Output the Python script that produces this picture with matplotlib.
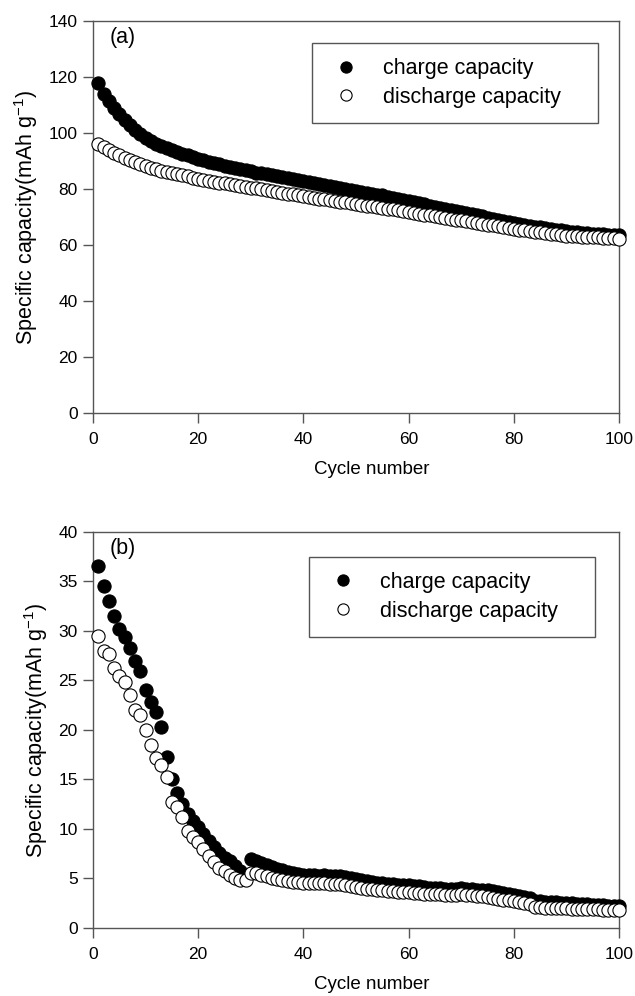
import numpy as np
import matplotlib
matplotlib.use('Agg')
from matplotlib import pyplot as plt

## DATA
cycles = np.arange(1, 101)

charge_a = [118.0, 114.0, 111.5, 109.0, 106.8, 104.8, 102.8, 101.0, 99.5, 98.2,
            97.0, 96.0, 95.2, 94.5, 93.8, 93.2, 92.6, 92.0, 91.4, 90.8,
            90.3, 89.8, 89.3, 88.8, 88.4, 88.0, 87.5, 87.1, 86.7, 86.3,
            85.9, 85.6, 85.2, 84.9, 84.5, 84.2, 83.8, 83.5, 83.1, 82.8,
            82.4, 82.1, 81.8, 81.4, 81.0, 80.7, 80.4, 80.0, 79.7, 79.4,
            79.0, 78.7, 78.4, 78.0, 77.7, 77.3, 76.9, 76.5, 76.1, 75.7,
            75.3, 74.9, 74.5, 74.1, 73.7, 73.3, 73.0, 72.6, 72.2, 71.8,
            71.4, 71.0, 70.6, 70.2, 69.8, 69.4, 69.0, 68.6, 68.2, 67.8,
            67.5, 67.2, 66.9, 66.6, 66.3, 66.0, 65.7, 65.4, 65.2, 65.0,
            64.8, 64.6, 64.4, 64.2, 64.0, 63.9, 63.8, 63.7, 63.6, 63.5]

discharge_a = [96.0, 95.0, 94.0, 93.0, 92.0, 91.0, 90.2, 89.5, 88.8, 88.2,
               87.6, 87.1, 86.6, 86.1, 85.7, 85.3, 84.9, 84.5, 84.1, 83.7,
               83.3, 82.9, 82.6, 82.3, 82.0, 81.7, 81.4, 81.1, 80.8, 80.5,
               80.2, 79.9, 79.6, 79.3, 79.0, 78.7, 78.4, 78.1, 77.8, 77.5,
               77.2, 76.9, 76.6, 76.3, 76.0, 75.8, 75.5, 75.2, 75.0, 74.7,
               74.4, 74.1, 73.8, 73.5, 73.2, 73.0, 72.7, 72.4, 72.1, 71.8,
               71.5, 71.2, 70.9, 70.6, 70.3, 70.0, 69.7, 69.4, 69.1, 68.8,
               68.5, 68.2, 67.9, 67.6, 67.3, 67.0, 66.7, 66.4, 66.1, 65.8,
               65.5, 65.2, 65.0, 64.7, 64.5, 64.2, 64.0, 63.8, 63.6, 63.4,
               63.2, 63.1, 63.0, 62.9, 62.8, 62.7, 62.6, 62.5, 62.4, 62.3]

charge_b = [36.6, 34.5, 33.0, 31.5, 30.2, 29.4, 28.3, 27.0, 26.0, 24.0,
            22.8, 21.8, 20.3, 17.3, 15.0, 13.6, 12.5, 11.5, 10.8, 10.2,
            9.5, 8.8, 8.2, 7.6, 7.1, 6.8, 6.3, 5.8, 5.3, 7.0,
            6.8, 6.6, 6.4, 6.2, 6.0, 5.9, 5.7, 5.6, 5.5, 5.4,
            5.4, 5.4, 5.3, 5.4, 5.3, 5.3, 5.2, 5.1, 5.0, 4.9,
            4.8, 4.7, 4.6, 4.5, 4.5, 4.4, 4.4, 4.3, 4.3, 4.3,
            4.2, 4.2, 4.1, 4.0, 4.0, 4.0, 3.9, 3.9, 3.9, 4.0,
            3.9, 3.9, 3.8, 3.8, 3.8, 3.7, 3.6, 3.5, 3.4, 3.3,
            3.2, 3.1, 3.0, 2.7, 2.7, 2.6, 2.6, 2.6, 2.5, 2.5,
            2.5, 2.4, 2.4, 2.4, 2.3, 2.3, 2.3, 2.2, 2.2, 2.2]

discharge_b = [29.5, 28.0, 27.7, 26.3, 25.5, 24.8, 23.5, 22.0, 21.5, 20.0,
               18.5, 17.2, 16.5, 15.2, 12.7, 12.2, 11.2, 9.8, 9.2, 8.7,
               8.0, 7.3, 6.7, 6.1, 5.8, 5.4, 5.0, 4.8, 4.8, 5.6,
               5.6, 5.4, 5.2, 5.0, 4.9, 4.8, 4.7, 4.6, 4.6, 4.5,
               4.5, 4.5, 4.5, 4.5, 4.4, 4.4, 4.4, 4.3, 4.2, 4.1,
               4.0, 3.9, 3.9, 3.8, 3.8, 3.7, 3.7, 3.6, 3.6, 3.6,
               3.5, 3.5, 3.4, 3.4, 3.4, 3.4, 3.3, 3.3, 3.3, 3.4,
               3.3, 3.3, 3.2, 3.2, 3.1, 3.0, 2.9, 2.8, 2.8, 2.7,
               2.6, 2.5, 2.4, 2.1, 2.1, 2.0, 2.0, 2.0, 2.0, 2.0,
               1.9, 1.9, 1.9, 1.9, 1.9, 1.9, 1.8, 1.8, 1.8, 1.8]

x_ticks = [0, 20, 40, 60, 80, 100]
y_ticks_a = [0, 20, 40, 60, 80, 100, 120, 140]
y_ticks_b = [0, 5, 10, 15, 20, 25, 30, 35, 40]

## STYLE
plt.rcParams['font.family'] = ['Liberation Sans', 'DejaVu Sans']
plt.rcParams['mathtext.fontset'] = 'custom'
plt.rcParams['mathtext.rm'] = 'Liberation Sans'
spine_col = '#555555'


def panel(ax, charge, discharge, yticks, tag, leg_box):
    ax.plot(cycles, charge, 'o', color='black', markersize=9.5,
            markeredgecolor='black', markeredgewidth=0.8, label='charge capacity',
            clip_on=False, zorder=3)
    ax.plot(cycles, discharge, 'o', markerfacecolor='white', markersize=9.5,
            markeredgecolor='black', markeredgewidth=0.8, label='discharge capacity',
            clip_on=False, zorder=4)
    ax.set_xlim(0, 100)
    ax.set_ylim(yticks[0], yticks[-1])
    ax.set_xticks(x_ticks)
    ax.set_yticks(yticks)
    ax.tick_params(direction='out', length=7, width=1, color=spine_col,
                   labelsize=12.5, pad=4)
    ax.tick_params(axis='x', pad=7)
    for s in ax.spines.values():
        s.set_color(spine_col)
        s.set_linewidth(1)
    ax.set_xlabel('Cycle number', fontsize=13.5, labelpad=10, x=0.53)
    ax.set_ylabel('Specific capacity(mAh g$^{-1}$)', fontsize=15.5, labelpad=6)
    ax.text(0.032, 0.985, tag, transform=ax.transAxes, fontsize=15.5,
            ha='left', va='top')
    leg = ax.legend(loc='upper left', bbox_to_anchor=leg_box, mode='expand',
                    borderaxespad=0, fontsize=15.5, fancybox=False,
                    framealpha=1, edgecolor=spine_col, handletextpad=0.8,
                    handlelength=1.8, borderpad=0.7, labelspacing=0.35,
                    markerscale=0.85)
    leg.get_frame().set_linewidth(1)


fig = plt.figure(figsize=(6.35, 9.96), dpi=100)
ax1 = fig.add_axes([0.1465, 0.5853, 0.8283, 0.3936])
ax2 = fig.add_axes([0.1465, 0.0683, 0.8283, 0.3976])

panel(ax1, charge_a, discharge_a, y_ticks_a, '(a)', (0.416, 0.75, 0.545, 0.194))
panel(ax2, charge_b, discharge_b, y_ticks_b, '(b)', (0.41, 0.75, 0.545, 0.187))

plt.savefig('out.png', dpi=100)
